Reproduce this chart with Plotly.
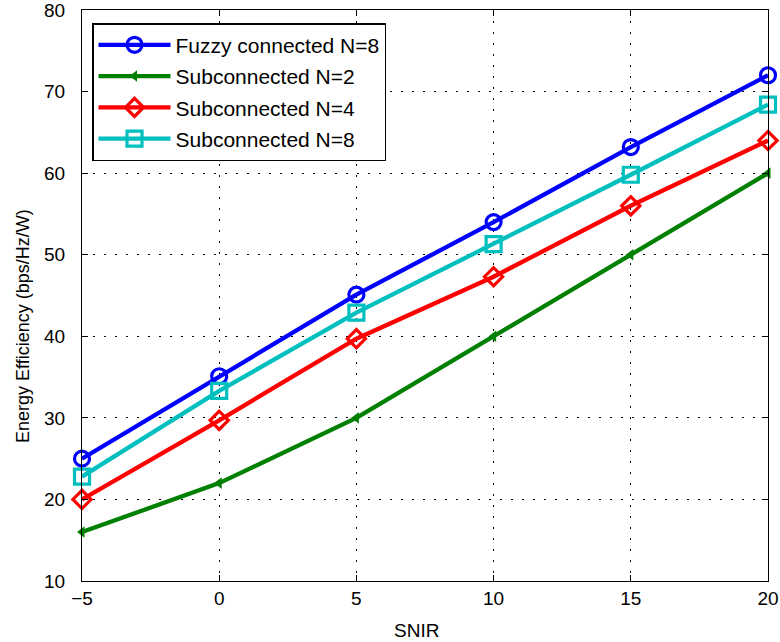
import plotly.graph_objects as go

snir = [-5, 0, 5, 10, 15, 20]
fuzzy_n8 = [25, 35.1, 45.1, 54.0, 63.2, 72.0]
sub_n2 = [16, 22.0, 30.0, 40.0, 50.0, 60.0]
sub_n4 = [20, 29.7, 39.7, 47.3, 56.0, 64.0]
sub_n8 = [22.8, 33.3, 42.9, 51.3, 59.8, 68.4]

series_names = ["Fuzzy connected N=8", "Subconnected N=2", "Subconnected N=4", "Subconnected N=8"]
x_ticks = [-5, 0, 5, 10, 15, 20]
y_ticks = [10, 20, 30, 40, 50, 60, 70, 80]
x_title = "SNIR"
y_title = "Energy Efficiency (bps/Hz/W)"

FONT = "Liberation Sans, Arial, Helvetica, sans-serif"

fig = go.Figure()
fig.add_trace(go.Scatter(x=snir, y=fuzzy_n8, name=series_names[0], mode="lines+markers",
                         legendgroup="g1",
                         line=dict(color="#0000ff", width=4.3),
                         marker=dict(symbol="circle-open", size=15, color="#0000ff", line=dict(width=3.2)),
                         cliponaxis=False))
fig.add_trace(go.Scatter(x=snir, y=sub_n2, name=series_names[1], mode="lines+markers",
                         legendgroup="g2",
                         line=dict(color="#008000", width=4.3),
                         marker=dict(symbol="triangle-left", size=10, color="#008000"),
                         cliponaxis=False))
fig.add_trace(go.Scatter(x=snir, y=sub_n4, name=series_names[2], mode="lines+markers",
                         legendgroup="g3",
                         line=dict(color="#ff0000", width=4.3),
                         marker=dict(symbol="diamond-open", size=14, color="#ff0000", line=dict(width=3.2)),
                         cliponaxis=False))
fig.add_trace(go.Scatter(x=snir, y=sub_n8, name=series_names[3], mode="lines+markers",
                         legendgroup="g4",
                         line=dict(color="#00bfbf", width=4.3),
                         marker=dict(symbol="square-open", size=15, color="#00bfbf", line=dict(width=3.2)),
                         cliponaxis=False))

axis_common = dict(
    showline=True, linecolor="black", linewidth=1.3, mirror="ticks",
    ticks="inside", ticklen=6, tickcolor="black", tickwidth=1,
    showgrid=True, gridcolor="black", gridwidth=1, griddash="2px,9px",
    zeroline=False, automargin=False, ticklabeloverflow="allow",
    tickfont=dict(family=FONT, size=19, color="black"),
)

fig.update_xaxes(range=[-5, 20], tickvals=x_ticks, **axis_common)
fig.update_yaxes(range=[10, 80], tickvals=y_ticks, ticklabelstandoff=12, **axis_common)

fig.add_annotation(text=x_title, xref="paper", yref="paper",
                   x=(416 - 82) / 686, y=-(630 - 581) / 571, xanchor="center", yanchor="middle",
                   showarrow=False, font=dict(family=FONT, size=19, color="black"))
fig.add_annotation(text=y_title, xref="paper", yref="paper", textangle=-90,
                   x=(23 - 82) / 686, y=(581 - 326) / 571, xanchor="center", yanchor="middle",
                   showarrow=False, font=dict(family=FONT, size=18, color="black"))

fig.update_layout(
    width=780, height=642,
    margin=dict(l=82, r=12, t=10, b=61),
    paper_bgcolor="white", plot_bgcolor="white",
    font=dict(family=FONT, color="black"),
    legend=dict(x=0.0146, y=0.977, xanchor="left", yanchor="top",
                bgcolor="white", bordercolor="black", borderwidth=1.5,
                font=dict(family=FONT, size=21, color="black"),
                itemwidth=72, tracegroupgap=1, traceorder="grouped"),
    showlegend=True,
)

fig.write_html("out.html", config={"displayModeBar": False},
               post_script="document.body.style.margin='0';")
